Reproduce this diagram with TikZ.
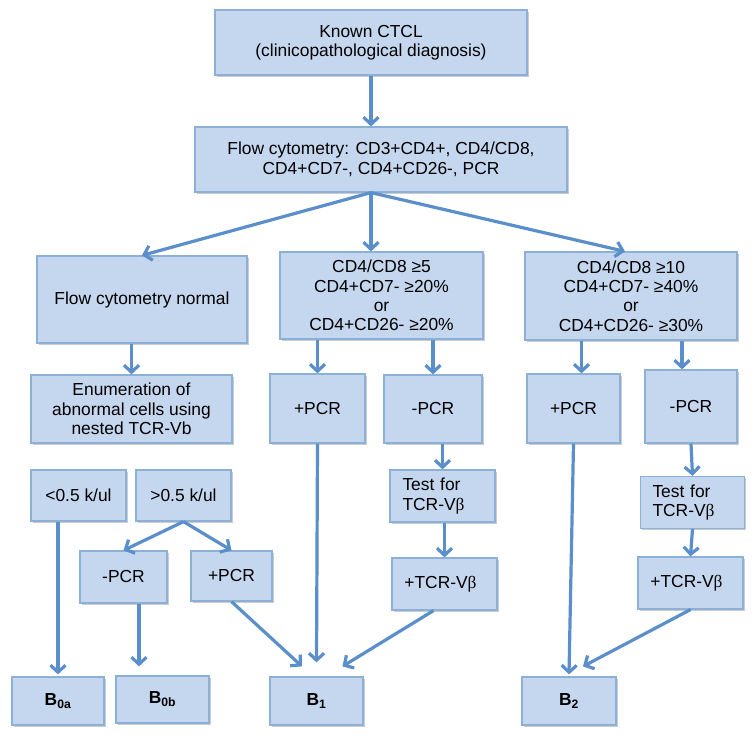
\documentclass[tikz,border=0pt]{standalone}
\usepackage{fontspec}
\setmainfont{Liberation Sans}
\newfontfamily\greekfont{Liberation Serif}
\usetikzlibrary{arrows.meta}
\usetikzlibrary{shadows}
\definecolor{boxfill}{HTML}{C5D7EE}
\definecolor{boxline}{HTML}{8DB0D9}
\definecolor{arrline}{HTML}{5B8FCB}
\newcommand{\vbeta}{{\greekfont β}}

\begin{document}
\begin{tikzpicture}[x=1pt,y=-1pt,
  box/.style={draw=boxline,fill=boxfill,line width=1.2pt,align=center,inner sep=0pt,
    font=\fontsize{17.4}{19.4}\selectfont,
    drop shadow={shadow xshift=1.5pt,shadow yshift=-1.5pt,fill=black,opacity=.2}},
  wh/.style 2 args={minimum width=#1,minimum height=#2},
  arr/.style={draw=arrline,line width=3.2pt,-{Straight Barb[length=7pt,width=15pt]}}]
\useasboundingbox (0,0) rectangle (756,739);

% top of the tree
\node[box,wh={312}{65}] (known) at (371,42.5) {Known CTCL\\(clinicopathological diagnosis)};
\node[box,wh={372}{65}] (flow) at (381,159.5) {Flow cytometry: CD3+CD4+, CD4/CD8,\\CD4+CD7-, CD4+CD26-, PCR};

% left branch
\node[box,wh={210}{87}] (normal) at (142,299.5) {Flow cytometry normal};
\node[box,wh={201}{68}] (enum) at (131.5,409) {Enumeration of\\abnormal cells using\\nested TCR-Vb};
\node[box,wh={95}{51}] (low) at (78.5,495.5) {<0.5 k/ul};
\node[box,wh={95}{51}] (high) at (183.5,495.5) {>0.5 k/ul};
\node[box,wh={87}{52}] (npcr0) at (123.5,577) {-PCR};
\node[box,wh={81}{50}] (pcr0) at (231.5,576) {+PCR};

% middle branch
\node[box,wh={203}{87}] (critA) at (381.5,295.5) {CD4/CD8 ≥5\\CD4+CD7- ≥20\%\\or\\CD4+CD26- ≥20\%};
\node[box,wh={95}{69}] (pcrA) at (317.5,408.5) {+PCR};
\node[box,wh={98}{68}] (npcrA) at (433,409) {-PCR};
\node[box,wh={105}{52},text width=80,align=left] (testA) at (442.5,496) {Test for\\TCR-V\vbeta};
\node[box,wh={105}{52}] (tcrA) at (444.5,584) {+TCR-V\vbeta\hspace{8pt}};

% right branch
\node[box,wh={212}{88}] (critB) at (631,296) {CD4/CD8 ≥10\\CD4+CD7- ≥40\%\\or\\CD4+CD26- ≥30\%};
\node[box,wh={93}{69}] (pcrB) at (573.5,408.5) {+PCR};
\node[box,wh={92}{73}] (npcrB) at (691,406.5) {-PCR};
\node[box,wh={104}{52},text width=80,align=left] (testB) at (692.5,502.5) {Test for\\TCR-V\vbeta};
\node[box,wh={105}{52}] (tcrB) at (690.5,583) {+TCR-V\vbeta\hspace{8pt}};

% outcomes
\node[box,wh={92}{48}] (b0a) at (58,701) {\textbf{B\textsubscript{0a}}};
\node[box,wh={93}{47}] (b0b) at (162.5,699.5) {\textbf{B\textsubscript{0b}}};
\node[box,wh={93}{48}] (b1) at (316.5,701) {\textbf{B\textsubscript{1}}};
\node[box,wh={94}{48}] (b2) at (569,701) {\textbf{B\textsubscript{2}}};

% arrows
\draw[arr] (known.south) -- (flow.north -| known.south);
\draw[arr] (flow.south -| known.south) -- (normal.north);
\draw[arr] (flow.south -| known.south) -- (critA.north -| known.south);
\draw[arr] (flow.south -| known.south) -- ([xshift=-6pt]critB.north);
\draw[arr] (normal.south -| enum.north) -- (enum.north);
\foreach \a/\b in {critA/pcrA,critA/npcrA,npcrA/testA}
  \draw[arr] (\a.south -| \b.north) -- (\b.north);
\draw[arr] ([xshift=8pt]pcrB.north |- critB.south) -- ([xshift=8pt]pcrB.north);
\draw[arr] ([xshift=-9pt]npcrB.north |- critB.south) -- ([xshift=-9pt]npcrB.north);
\foreach \a/\b in {high/npcr0,high/pcr0,npcrB/testB,testB/tcrB}
  \draw[arr] (\a.south) -- (\b.north);
\draw[arr] (testA.south -| tcrA.north) -- (tcrA.north);
\draw[arr] (low.south -| b0a.north) -- ([yshift=2pt]b0a.north);
\draw[arr] ([xshift=15.5pt]npcr0.south) -- ([xshift=15.5pt,yshift=9pt]npcr0.south |- b0b.north);
\draw[arr] (pcr0.south) -- ([xshift=-14.5pt,yshift=10pt]b1.north);
\draw[arr] (pcrA.south) -- ([yshift=14pt]b1.north);
\draw[arr] ([xshift=-11pt]tcrA.south) -- ([xshift=26pt,yshift=10pt]b1.north);
\draw[arr] (pcrB.south) -- ([yshift=2pt]b2.north);
\draw[arr] (tcrB.south) -- ([xshift=14pt,yshift=10pt]b2.north);
\end{tikzpicture}
\end{document}
